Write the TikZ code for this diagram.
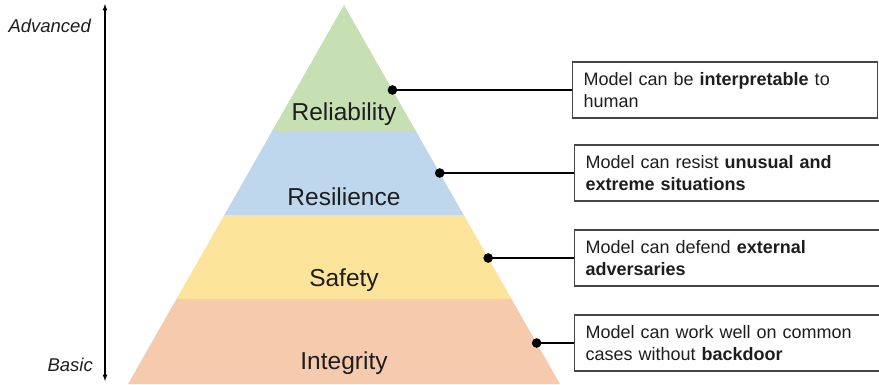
\documentclass[tikz,border=0pt]{standalone}
\usepackage{fontspec}
\setmainfont{Liberation Sans}
\usetikzlibrary{arrows, math, positioning}
\definecolor{relgreen}{RGB}{198,224,180}
\definecolor{resblue}{RGB}{190,215,237}
\definecolor{safyellow}{RGB}{252,228,154}
\definecolor{intorange}{RGB}{246,203,173}
\definecolor{boxgray}{RGB}{70,70,70}
\definecolor{inkgray}{RGB}{30,30,30}

\tikzset{
  layer/.style={font=\fontsize{24.5}{28}\selectfont, text=inkgray, inner sep=0},
  note/.style={draw=boxgray, line width=1.3pt, fill=white, anchor=west,
    minimum height=56pt, text width=#1, inner xsep=11pt, align=left,
    font=\fontsize{18}{22}\selectfont, text=inkgray},
  note/.default=283pt,
  pin/.style={line width=1.2pt, black},
  side/.style={font=\fontsize{18.5}{22}\selectfont\itshape, text=inkgray, anchor=east, inner sep=0},
}

\begin{document}
\begin{tikzpicture}[x=1pt,y=-1pt]
\tikzmath{
\ax=344; \ay=5; \by=384; \hw=216;
\k=\hw/(\by-\ay);
}
\useasboundingbox (0,0) rectangle (879,384);
\clip (0,0) rectangle (879,384);

% pyramid
\begin{scope}
\clip (\ax,\ay) -- (\ax+\hw,\by) -- (\ax-\hw,\by) -- cycle;
\fill[relgreen] (100,0) rectangle (600,132);
\fill[resblue] (100,132) rectangle (600,215);
\fill[safyellow] (100,215) rectangle (600,299);
\fill[intorange] (100,299) rectangle (600,390);
\end{scope}

\node[layer] (rel) at (\ax,114) {Reliability};
\node[layer] (res) at (\ax,197) {Resilience};
\node[layer] (saf) at (\ax,280) {Safety};
\node[layer] (int) at (\ax,363) {Integrity};

% dots on the right edge
\coordinate (d1) at ({\ax+\k*(90-\ay)},90);
\coordinate (d2) at ({\ax+\k*(173-\ay)},173);
\coordinate (d3) at ({\ax+\k*(258-\ay)},258);
\coordinate (d4) at ({\ax+\k*(343-\ay)},343);

% notes
\node[note] (b1) at (572,90) {Model can be \textbf{interpretable} to\\human};
\node[note=295pt] (b2) at (574,173) {Model can resist \textbf{unusual and}\\\textbf{extreme situations}};
\node[note=295pt] (b3) at (574,258) {Model can defend \textbf{external}\\\textbf{adversaries}};
\node[note=295pt] (b4) at (574,343) {Model can work well on common\\cases without \textbf{backdoor}};

\foreach \i in {1,...,4}{
  \draw[pin] (d\i) -- (b\i.west);
  \fill (d\i) circle (4.8pt);
}

% level arrow
\coordinate (up) at (105,4);
\coordinate (down) at (105,381);
\draw[line width=1.2pt, latex-latex] (down) -- (up);
\node[side] (adv) at (91,26) {Advanced};
\node[side] (bas) at (93,365) {Basic};

\end{tikzpicture}
\end{document}
